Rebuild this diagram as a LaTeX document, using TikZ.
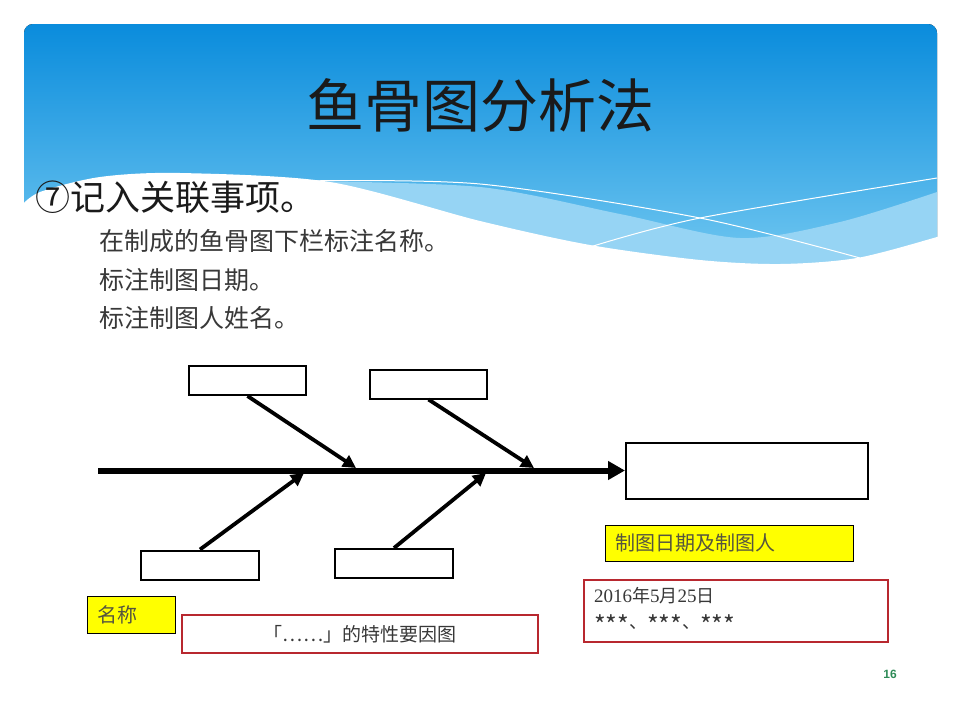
\documentclass[tikz,border=0pt]{standalone}
\usepackage{fontspec}
\setmainfont{Noto Sans CJK SC}
\newfontfamily\pagefont{Liberation Sans}
\newfontfamily\latinserif{Liberation Serif}
\usetikzlibrary{arrows.meta,positioning}
\definecolor{FBSkyTop}{HTML}{0A8CDC}
\definecolor{FBSkyBottom}{HTML}{72C8F1}
\definecolor{FBBand}{HTML}{96D4F4}
\definecolor{FBInk}{HTML}{1A1A1A}
\definecolor{FBSoft}{HTML}{383838}
\definecolor{FBYellow}{HTML}{FFFF00}
\definecolor{FBTagText}{HTML}{55553F}
\definecolor{FBRed}{HTML}{B8282F}
\definecolor{FBPage}{HTML}{2E8B57}
\newcommand{\starrun}{\raisebox{-0.32em}{\fontsize{25}{26}\selectfont ***}}
\newcommand{\serifnum}[1]{{\latinserif\fontsize{19}{26}\selectfont #1}}
\tikzset{
  bonebox/.style={draw=black,line width=2pt,fill=white,inner sep=0pt,
                  minimum width=117pt,minimum height=29pt},
  headbox/.style={bonebox,minimum width=242pt,minimum height=56pt},
  spine/.style={-{Triangle[length=17pt,width=18pt]},black,line width=6pt},
  bone/.style={-{Triangle[length=13pt,width=13pt]},black,line width=3.8pt},
  tag/.style={draw=black,line width=0.8pt,fill=FBYellow,text=FBTagText,
              anchor=north west,inner xsep=10pt,inner ysep=0pt,align=left,
              font=\fontsize{20}{24}\selectfont},
  notebox/.style={draw=FBRed,line width=2pt,fill=white,text=FBSoft,
                  anchor=north west,inner xsep=10pt,inner ysep=0pt},
  title/.style={text=FBInk,font=\fontsize{58}{64}\selectfont},
  steptext/.style={text=FBInk,anchor=west,font=\fontsize{35}{40}\selectfont},
  subtext/.style={text=FBSoft,anchor=west,font=\fontsize{25}{30}\selectfont},
}

\begin{document}
\begin{tikzpicture}[x=1pt,y=-1pt]
  \useasboundingbox (0,0) rectangle (960,720);
  % --- header banner ---
  \fill[top color=FBSkyTop,bottom color=FBSkyBottom,rounded corners=9pt]
    (24,24) rectangle (937,270);
  \fill[FBBand] plot[smooth] coordinates
    {(300,181) (480,187) (620,214) (740,238) (840,222) (937,192)}
    -- (937,290) -- (300,290) -- cycle;
  \fill[white] plot[smooth] coordinates
    {(20,207) (40,192) (100,177) (180,173) (330,182) (480,221) (590,245)
     (700,260) (780,264) (857,258) (937,237) (950,232)}
    -- (950,300) -- (20,300) -- cycle;
  \draw[white,line width=1pt] plot[smooth] coordinates
    {(300,181) (480,184) (700,218) (860,258)};
  \draw[white,line width=1pt] plot[smooth] coordinates
    {(590,247) (700,218) (937,178)};

  \node[title] (title) at (480,105) {鱼骨图分析法};
  \node[steptext] (step) at (32,197) {⑦记入关联事项。};
  \node[subtext] (note1) at (96,241) {在制成的鱼骨图下栏标注名称。};
  \node[subtext] (note2) at (96,280) {标注制图日期。};
  \node[subtext] (note3) at (96,318) {标注制图人姓名。};

  % --- fishbone ---
  \node[headbox] (head) at (747,470.5) {};
  \node[bonebox] (t1) at (247.5,380.5) {};
  \node[bonebox] (t2) at (428.5,384) {};
  \node[bonebox,minimum width=118pt] (b1) at (200,565) {};
  \node[bonebox,minimum width=118pt] (b2) at (394,563.5) {};
  \coordinate (tail) at (98,470.5);
  \coordinate (j1) at (356,468);
  \coordinate (j2) at (534,468);
  \coordinate (j3) at (304,473);
  \coordinate (j4) at (486,473);
  \draw[spine] (tail) -- (head.west);
  \draw[bone] (t1.south) -- (j1);
  \draw[bone] (t2.south) -- (j2);
  \draw[bone] (b1.north) -- (j3);
  \draw[bone] (b2.north) -- (j4);

  % --- name, date and author ---
  \node[tag,text width=228pt,minimum height=36pt] (datetag) at (605,525) {制图日期及制图人};
  \node[notebox,text width=284pt,minimum height=62pt,align=left,
        font=\fontsize{18}{26}\selectfont] (datebox) at (583,579)
    {\serifnum{2016}年\serifnum{5}月\serifnum{25}日\\{}\starrun、\starrun、\starrun};
  \node[tag,text width=68pt,minimum height=37pt] (nametag) at (87,596) {名称};
  \node[notebox,text width=336pt,minimum height=38pt,align=center,
        font=\fontsize{19}{22}\selectfont] (namebox) at (181,614)
    {「……」的特性要因图};

  \node[text=FBPage,font=\pagefont\bfseries\fontsize{12}{14}\selectfont] (pageno)
    at (890,674) {16};
\end{tikzpicture}
\end{document}
